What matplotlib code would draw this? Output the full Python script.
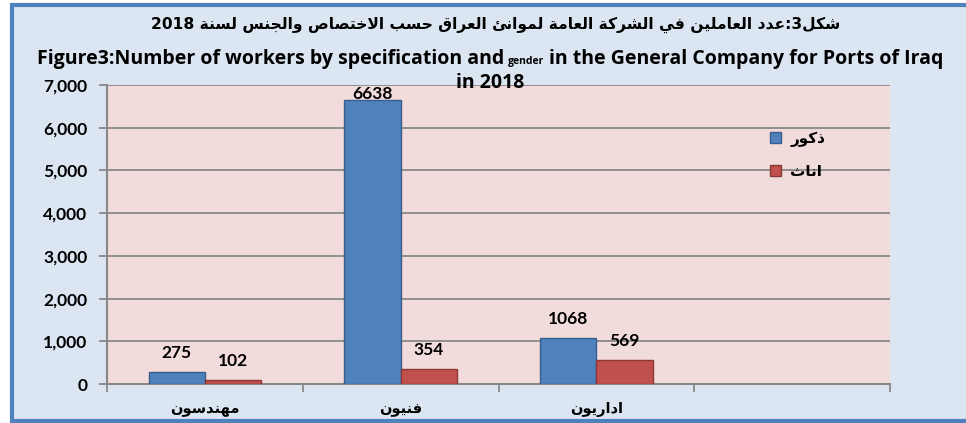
import re
import matplotlib
matplotlib.use("Agg")
import matplotlib.pyplot as plt
from matplotlib.patches import Rectangle
from matplotlib.offsetbox import TextArea, HPacker, AnchoredOffsetbox

# ---------------- data ----------------
categories = ["مهندسون", "فنيون", "اداريون", ""]
males = [275, 6638, 1068, None]
females = [102, 354, 569, None]
series_names = ["ذكور", "اناث"]
yticks = [0, 1000, 2000, 3000, 4000, 5000, 6000, 7000]
title_ar = "شكل3:عدد العاملين في الشركة العامة لموانئ العراق حسب الاختصاص والجنس لسنة 2018"
title_en_a = "Figure3:Number of workers by specification and"
title_en_b = "gender"
title_en_c = "in the General Company for Ports of Iraq"
title_en_d = "in 2018"

# ---------------- minimal Arabic shaping ----------------
DUAL = {'ب': 0xFE8F, 'ت': 0xFE95, 'ث': 0xFE99, 'ج': 0xFE9D, 'ح': 0xFEA1, 'خ': 0xFEA5,
        'س': 0xFEB1, 'ش': 0xFEB5, 'ص': 0xFEB9, 'ع': 0xFEC9, 'ف': 0xFED1, 'ق': 0xFED5,
        'ك': 0xFED9, 'ل': 0xFEDD, 'م': 0xFEE1, 'ن': 0xFEE5, 'ه': 0xFEE9, 'ي': 0xFEF1,
        'ئ': 0xFE89}
RIGHT = {'ا': 0xFE8D, 'د': 0xFEA9, 'ذ': 0xFEAB, 'ر': 0xFEAD, 'و': 0xFEED, 'ة': 0xFE93}


def shape(s):
    tokens = []
    i = 0
    while i < len(s):
        if s[i] == 'ل' and i + 1 < len(s) and s[i + 1] == 'ا':
            tokens.append('LA')
            i += 2
        else:
            tokens.append(s[i])
            i += 1

    def arab(t):
        return t == 'LA' or t in DUAL or t in RIGHT

    res = []
    for k, t in enumerate(tokens):
        prev = tokens[k - 1] if k > 0 else None
        nxt = tokens[k + 1] if k + 1 < len(tokens) else None
        jp = prev is not None and prev in DUAL
        if t == 'LA':
            res.append(chr(0xFEFC if jp else 0xFEFB))
        elif t in DUAL:
            jn = nxt is not None and arab(nxt)
            off = 3 if (jp and jn) else 1 if jp else 2 if jn else 0
            res.append(chr(DUAL[t] + off))
        elif t in RIGHT:
            res.append(chr(RIGHT[t] + (1 if jp else 0)))
        else:
            res.append(t)
    vis = ''.join(reversed(res))
    vis = re.sub(r'[0-9]+', lambda m: m.group(0)[::-1], vis)
    return vis


# ---------------- figure ----------------
W, H = 966, 423
DPI = 100
fig = plt.figure(figsize=(W / DPI, H / DPI), dpi=DPI)
fig.patch.set_facecolor('white')

BG = '#DCE6F2'
PLOT_BG = '#F2DCDB'
BORDER = '#4F81BD'
GRID = '#888888'
BLUE = '#4F81BD'
BLUE_E = '#385D8A'
RED = '#C0504D'
RED_E = '#8C3836'
LATIN = ['Lato', 'DejaVu Sans']
TITLE = ['Open Sans', 'DejaVu Sans']
ARAB = ['DejaVu Sans']

# chart area background + blue frame (right edge is cropped)
fig.add_artist(Rectangle((11.5 / W, 1 - 420.5 / H), 1.2, (420.5 - 5.5) / H,
                         transform=fig.transFigure, facecolor=BG,
                         edgecolor=BORDER, linewidth=3, zorder=0))

ax = fig.add_axes([107 / W, 1 - 384 / H, (890 - 107) / W, (384 - 85) / H])
ax.set_facecolor(PLOT_BG)

n = len(categories)
x = list(range(n))
bw = 0.2875
mx = [xi - bw / 2 for xi, v in zip(x, males) if v is not None]
mv = [v for v in males if v is not None]
fx = [xi + bw / 2 for xi, v in zip(x, females) if v is not None]
fv = [v for v in females if v is not None]
b1 = ax.bar(mx, mv, bw, color=BLUE, edgecolor=BLUE_E, linewidth=1, zorder=3,
            label=shape(series_names[0]))
b2 = ax.bar(fx, fv, bw, color=RED, edgecolor=RED_E, linewidth=1, zorder=3,
            label=shape(series_names[1]))

ax.set_xlim(-0.5, n - 0.5)
ax.set_ylim(yticks[0], yticks[-1])
ax.set_yticks(yticks)
ax.set_yticklabels([f"{t:,}" for t in yticks], fontfamily=LATIN,
                   fontweight='bold', fontsize=12.5)
ax.yaxis.grid(True, color=GRID, linewidth=1.3, zorder=1)
ax.set_axisbelow(True)

ax.set_xticks(x)
ax.set_xticklabels([shape(c) for c in categories], fontfamily=ARAB,
                   fontweight='bold', fontsize=10.5)
ax.set_xticks([xi - 0.5 for xi in x] + [n - 0.5], minor=True)
ax.tick_params(axis='x', which='major', length=0, pad=13)
ax.tick_params(axis='x', which='minor', length=6, width=1.3, color=GRID)
ax.tick_params(axis='y', which='major', length=6, width=1.3, color=GRID, pad=8)

for s in ['top', 'right']:
    ax.spines[s].set_visible(False)
for s in ['left', 'bottom']:
    ax.spines[s].set_color(GRID)
    ax.spines[s].set_linewidth(1.5)

# data labels
off = 19 * (yticks[-1] - yticks[0]) / (384 - 85)
cap = yticks[-1] - 9 * (yticks[-1] - yticks[0]) / (384 - 85)
for xs, vs in ((mx, mv), (fx, fv)):
    for xi, v in zip(xs, vs):
        ax.text(xi, min(v + off, cap), f"{v}", ha='center', va='center',
                fontfamily=LATIN, fontweight='bold', fontsize=12.5, zorder=5)

# legend (manual placement in pixel coordinates)
leg = ax.legend(handles=[b1, b2], loc='center left',
                bbox_to_anchor=(756 / W, 1 - 155 / H),
                bbox_transform=fig.transFigure, frameon=False,
                prop={'family': ARAB, 'weight': 'bold', 'size': 11},
                handlelength=0.75, handleheight=0.75, handletextpad=0.6,
                labelspacing=1.1)

# titles
fig.text(496 / W, 1 - 25 / H, shape(title_ar), ha='center', va='center',
         fontfamily=ARAB, fontweight='bold', fontsize=11.2)

tp = dict(fontfamily=TITLE, fontweight='bold', fontsize=14)
parts = [TextArea(title_en_a, textprops=tp),
         TextArea(title_en_b, textprops=dict(fontfamily=TITLE, fontweight='bold', fontsize=7.5)),
         TextArea(title_en_c, textprops=tp)]
box = HPacker(children=parts, align='baseline', pad=0, sep=3)
ab = AnchoredOffsetbox(loc='center', child=box, pad=0, borderpad=0, frameon=False,
                       bbox_to_anchor=(490 / W, 1 - 59 / H),
                       bbox_transform=fig.transFigure)
fig.add_artist(ab)
fig.text(490 / W, 1 - 83 / H, title_en_d, ha='center', va='center', **tp)

fig.savefig('out.png', dpi=DPI, facecolor=fig.get_facecolor())
